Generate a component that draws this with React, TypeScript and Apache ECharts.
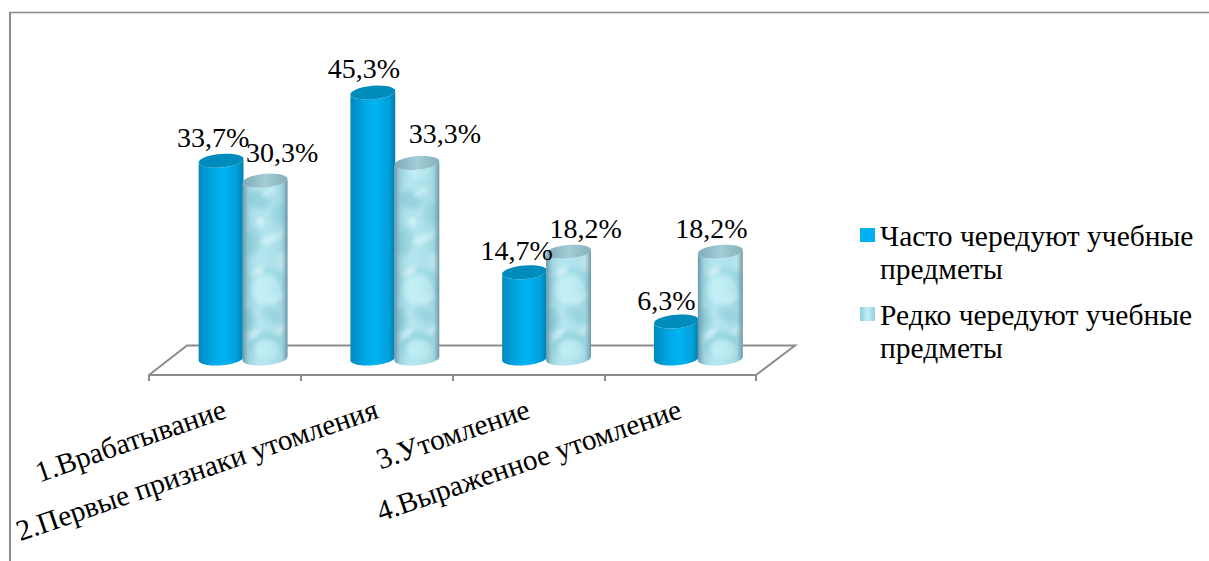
import React, { useEffect, useRef } from "react";
import * as echarts from "echarts";

const categories = [
  "1.Врабатывание",
  "2.Первые признаки утомления",
  "3.Утомление",
  "4.Выраженное утомление",
];
const oftenName = "Часто чередуют учебные предметы";
const rarelyName = "Редко чередуют учебные предметы";
const oftenValues = [33.7, 45.3, 14.7, 6.3];
const rarelyValues = [30.3, 33.3, 18.2, 18.2];

// Legend texts break after the second word.
const legendLines: Record<string, string> = {
  [oftenName]: "Часто чередуют учебные\nпредметы",
  [rarelyName]: "Редко чередуют учебные\nпредметы",
};

// Hand-placed label shifts from the top centre of each cylinder, in pixels.
const oftenLabelShift = [[-8, -23], [-9, -24], [-8, -22], [-10, -21]];
const rarelyLabelShift = [[17, -28], [28, -30], [17, -23], [-9, -23]];

const SERIF = "Liberation Serif";
const GREY = "#8c8c8c";
const RX = 22.5;
const RY = 6.8;
const TILT = (-5 * Math.PI) / 180;

// Point on the tilted elliptical rim of a cylinder.
function rim(cx: number, cy: number, a: number): number[] {
  const x = RX * Math.cos(a);
  const y = RY * Math.sin(a);
  return [cx + x * Math.cos(TILT) - y * Math.sin(TILT), cy + x * Math.sin(TILT) + y * Math.cos(TILT)];
}

function arc(cx: number, cy: number, from: number, to: number): number[][] {
  const steps = 28;
  const pts: number[][] = [];
  for (let i = 0; i <= steps; i++) pts.push(rim(cx, cy, from + ((to - from) * i) / steps));
  return pts;
}

// Mottled water-drop texture: soft blots given as [x, y, rx, ry, angle in degrees, colour],
// on a tile one band wide so every textured cylinder shows the same motif.
const blots: [number, number, number, number, number, string][] = [
  [16, 20, 11, 9, 20, "#8ccfda"],
  [36, 34, 8, 10, 0, "#9bd9e3"],
  [10, 62, 9, 14, 10, "#93d3de"],
  [30, 58, 14, 3, -25, "#d8f7fb"],
  [18, 42, 3, 3, 0, "#e6fbfd"],
  [26, 12, 9, 2.5, -35, "#d3f5f9"],
  [40, 82, 6, 10, 0, "#d2f4f9"],
  [22, 107, 19, 19, 0, "#97d9e4"],
  [23, 110, 17, 16, 0, "#bdeef5"],
  [14, 92, 8, 2.5, -30, "#e2f9fc"],
  [34, 118, 8, 3, -40, "#d2f4f9"],
  [6, 140, 6, 12, 0, "#8fd1dd"],
  [28, 135, 10, 7, 30, "#96d6e1"],
  [38, 150, 9, 3, -35, "#d8f7fa"],
  [22, 165, 16, 13, 0, "#8ccfdb"],
  [24, 170, 14, 11, 0, "#b9ecf3"],
  [10, 155, 8, 2.5, -40, "#dcf8fb"],
];

function dropletTile(bandWidth: number, originX: number): HTMLCanvasElement {
  const c = document.createElement("canvas");
  c.width = Math.round(bandWidth);
  c.height = 180;
  const g = c.getContext("2d")!;
  g.fillStyle = "#aee4ee";
  g.fillRect(0, 0, c.width, c.height);
  g.filter = "blur(2.6px)";
  for (const [x, y, rx, ry, deg, color] of blots) {
    g.fillStyle = color;
    g.beginPath();
    g.ellipse(originX + x, y, rx, ry, (deg * Math.PI) / 180, 0, Math.PI * 2);
    g.fill();
  }
  return c;
}

export default function App() {
  const ref = useRef<HTMLDivElement>(null);

  useEffect(() => {
    const chart = echarts.init(ref.current!, undefined, { renderer: "svg" });
    const tile = dropletTile(152, 91);

    const cylinder = (shift: number, labelShift: number[][], textured: boolean) => (params: any, api: any) => {
      const i = api.value(0);
      const value = api.value(1);
      const [bandX, top] = api.coord([i, value]);
      const [, base] = api.coord([i, 0]);
      const band = api.size([1, 0])[0];
      const cx = bandX + band * shift;
      const body = [...arc(cx, top, Math.PI, 0), ...arc(cx, base, 0, Math.PI)];
      const cap = arc(cx, top, 0, Math.PI * 2);
      const children: any[] = [];
      if (textured) {
        children.push({ type: "polygon", shape: { points: body }, style: { fill: { image: tile, repeat: "repeat" } } });
        children.push({
          type: "polygon",
          shape: { points: body },
          style: {
            fill: new echarts.graphic.LinearGradient(0, 0, 1, 0, [
              { offset: 0, color: "rgba(90,130,145,0.8)" },
              { offset: 0.14, color: "rgba(120,175,190,0.3)" },
              { offset: 0.4, color: "rgba(255,255,255,0.08)" },
              { offset: 0.86, color: "rgba(120,175,190,0.22)" },
              { offset: 1, color: "rgba(90,130,145,0.8)" },
            ]),
          },
        });
        children.push({
          type: "polygon",
          shape: { points: cap },
          style: {
            fill: new echarts.graphic.LinearGradient(0, 0, 1, 0, [
              { offset: 0, color: "#7fa9b6" },
              { offset: 0.5, color: "#a3cdd6" },
              { offset: 1, color: "#86b0bc" },
            ]),
          },
        });
      } else {
        children.push({
          type: "polygon",
          shape: { points: body },
          style: {
            fill: new echarts.graphic.LinearGradient(0, 0, 1, 0, [
              { offset: 0, color: "#0089bd" },
              { offset: 0.3, color: "#00a5e2" },
              { offset: 0.55, color: "#00b4f2" },
              { offset: 0.85, color: "#00a0db" },
              { offset: 1, color: "#007fae" },
            ]),
          },
        });
        children.push({ type: "polygon", shape: { points: cap }, style: { fill: "#008bbd" } });
      }
      const [dx, dy] = labelShift[i];
      children.push({
        type: "text",
        z2: 100,
        style: {
          text: value.toFixed(1).replace(".", ",") + "%",
          x: cx + dx,
          y: top + dy,
          align: "center",
          verticalAlign: "middle",
          fontFamily: SERIF,
          fontSize: 28,
          fill: "#000",
        },
      });
      return { type: "group", children };
    };

    chart.setOption({
      animation: false,
      backgroundColor: "#ffffff",
      grid: { left: 149, right: 1209 - 756, top: 65, height: 293.5 },
      xAxis: {
        type: "category",
        data: categories,
        offset: 16.5,
        axisLine: { onZero: false, lineStyle: { color: GREY, width: 2 } },
        axisTick: { show: true, length: 6, lineStyle: { color: GREY, width: 2 } },
        axisLabel: {
          interval: 0,
          rotate: 19,
          margin: 33,
          color: "#000",
          fontFamily: SERIF,
          fontSize: 29.3,
        },
      },
      yAxis: { type: "value", min: 0, max: 50, show: false },
      legend: {
        orient: "vertical",
        left: 855,
        top: 214,
        itemGap: 13,
        itemWidth: 15,
        itemHeight: 66,
        itemStyle: { borderWidth: 0 },
        symbolKeepAspect: false,
        icon: "path://M0 9H14V23H0Z M0 0L0 0 M0 66L0 66",
        selectedMode: false,
        formatter: (name: string) => legendLines[name],
        textStyle: {
          color: "#000",
          fontFamily: SERIF,
          fontSize: 29.5,
          lineHeight: 33,
        },
        data: [
          { name: oftenName, itemStyle: { color: "#00b0f0" } },
          {
            name: rarelyName,
            itemStyle: {
              color: new echarts.graphic.LinearGradient(0, 0, 1, 0, [
                { offset: 0, color: "#86cfdd" },
                { offset: 0.5, color: "#c4eef5" },
                { offset: 1, color: "#8ed3e0" },
              ]),
            },
          },
        ],
      },
      graphic: [
        {
          // Outer frame, open on the right and at the bottom
          type: "line",
          shape: { x1: 10, y1: 561, x2: 10, y2: 12 },
          style: { stroke: "#8a8a8a", lineWidth: 2 },
          silent: true,
        },
        {
          type: "line",
          shape: { x1: 9, y1: 12.5, x2: 1209, y2: 12.5 },
          style: { stroke: "#8a8a8a", lineWidth: 1.4 },
          silent: true,
        },
        {
          // Floor of the plot behind the cylinders
          type: "polyline",
          shape: { points: [[149, 375], [187, 345.5], [795, 345.5], [756, 375]] },
          style: { stroke: GREY, lineWidth: 2, fill: "none" },
          silent: true,
        },
      ],
      series: [
        {
          type: "custom",
          name: oftenName,
          clip: false,
          itemStyle: { color: "#00b0f0" },
          encode: { x: 0, y: 1 },
          data: oftenValues.map((v, i) => [i, v]),
          renderItem: cylinder(-0.025, oftenLabelShift, false),
        },
        {
          type: "custom",
          name: rarelyName,
          clip: false,
          itemStyle: { color: "#a9dce8" },
          encode: { x: 0, y: 1 },
          data: rarelyValues.map((v, i) => [i, v]),
          renderItem: cylinder(0.265, rarelyLabelShift, true),
        },
      ],
    });
    return () => chart.dispose();
  }, []);

  return <div ref={ref} style={{ position: "absolute", left: 0, top: 0, width: 1209, height: 561 }} />;
}
